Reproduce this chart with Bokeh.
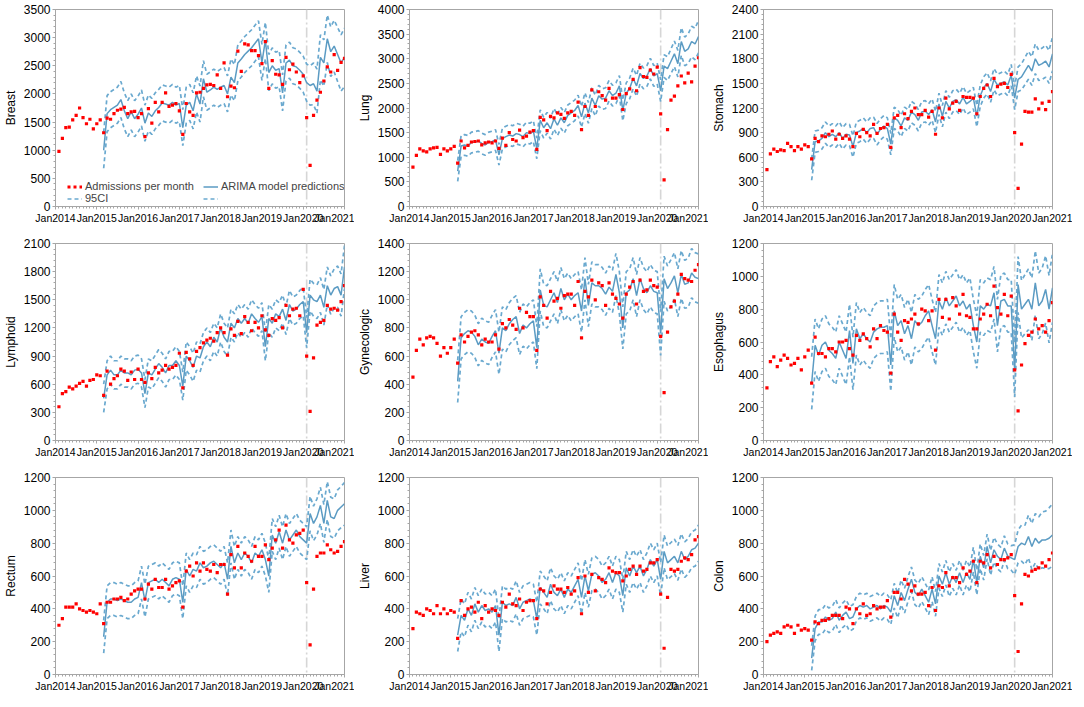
from bokeh.plotting import figure
from bokeh.layouts import gridplot
from bokeh.models import FixedTicker, Span, Legend, LegendItem, Range1d
from bokeh.embed import file_html
from bokeh.resources import INLINE

# x positions: months since Jan 2014 (1 = Feb 2014 ... 84 = Jan 2021)
month_obs = list(range(1, 85))
month_pred = list(range(14, 85))
year_ticks = [0, 12, 24, 36, 48, 60, 72, 84]
year_labels = ["Jan2014", "Jan2015", "Jan2016", "Jan2017", "Jan2018", "Jan2019", "Jan2020", "Jan2021"]
covid_month = 73

names = ["Breast", "Lung", "Stomach", "Lymphoid", "Gynecologic", "Esophagus", "Rectum", "Liver", "Colon"]
y_max = [3500, 4000, 2400, 2100, 1400, 1200, 1200, 1200, 1200]
y_step = [500, 500, 300, 300, 200, 200, 200, 200, 200]

# ---------------- Breast
breast_obs = [980, 1210, 1400, 1410, 1540, 1620, 1750, 1580, 1470, 1550, 1380, 1470,
              1540, 1310, 1570, 1550, 1650, 1710, 1730, 1760, 1650, 1680, 1690, 1580,
              1650, 1240, 1740, 1480, 1850, 1680, 1850, 2020, 1780, 1800, 1830, 1700,
              1280, 1830, 1680, 1620, 2020, 2030, 2100, 2160, 2170, 2150, 2340, 2100,
              2550, 1950, 2140, 2110, 2760, 2400, 2890, 2870, 2770, 2770, 2680, 2540,
              2930, 2100, 2590, 2350, 2340, 2170, 2650, 2430, 2530, 2390, 2200, 2320,
              1580, 730, 1620, 1890, 2030, 2230, 2480, 2390, 2700, 2420, 2560, 2630]
breast_pred = [1000, 1650, 1720, 1760, 1800, 1900, 1700, 1560, 1680, 1560, 1640,
               1750, 1480, 1660, 1600, 1700, 1760, 1840, 1820, 1800, 1850, 1800, 1830,
               1400, 1800, 1850, 1700, 2000, 1820, 2270, 2030, 2070, 2120, 2080, 2120,
               2150, 2000, 2300, 2200, 2550, 2620, 2700, 2760, 2820, 2900, 2980, 2560,
               2950, 2380, 2500, 2420, 2450, 2020, 2550, 2600, 2500, 2480, 2420, 2350,
               2200, 2150, 2180, 2050, 2650, 2550, 2980, 2750, 2850, 2700, 2550, 2650]
breast_ci = [320, 320, 320, 320, 320, 320, 320, 320, 320, 320, 320,
             320, 320, 320, 320, 320, 320, 320, 320, 320, 320, 320, 320,
             320, 320, 320, 320, 320, 320, 320, 320, 320, 320, 320, 320,
             320, 320, 320, 320, 320, 320, 320, 320, 320, 320, 320, 320,
             320, 320, 320, 320, 320, 320, 320, 320, 320, 320, 320, 320,
             330, 350, 370, 390, 400, 410, 420, 440, 460, 480, 500, 520]

# ---------------- Lung
lung_obs = [800, 1040, 1170, 1130, 1110, 1170, 1190, 1200, 1060, 1170, 1130, 1170,
            1220, 880, 1330, 1190, 1240, 1310, 1320, 1330, 1250, 1290, 1310, 1290,
            1330, 1180, 1390, 1240, 1500, 1360, 1330, 1550, 1400, 1430, 1510, 1540,
            1160, 1810, 1760, 1540, 1830, 1800, 1900, 1870, 1790, 1900, 1930, 1850,
            2120, 1560, 2030, 1850, 2370, 2030, 2330, 2250, 2160, 2400, 2200, 2200,
            2270, 1970, 2290, 2390, 2580, 2350, 2820, 2640, 2620, 2770, 2690, 2830,
            1880, 540, 1560, 2160, 2240, 2450, 2650, 2510, 2710, 2530, 2850, 3020]
lung_pred = [720, 1230, 1250, 1230, 1300, 1310, 1330, 1280, 1250, 1300, 1320,
             1350, 1050, 1380, 1420, 1450, 1430, 1480, 1460, 1420, 1500, 1480, 1530,
             1180, 1750, 1600, 1700, 1580, 1780, 1650, 1800, 1700, 1850, 1900, 1950,
             2050, 1820, 2100, 1900, 2200, 2050, 2250, 2180, 2200, 2350, 2250, 2300,
             2450, 1950, 2300, 2400, 2600, 2450, 2700, 2600, 2650, 2800, 2650, 2700,
             2350, 2850, 2800, 2950, 3100, 2900, 3350, 3150, 3200, 3350, 3300, 3450]
lung_ci = [210, 210, 210, 210, 210, 210, 210, 210, 210, 210, 210,
           210, 210, 210, 210, 210, 210, 210, 210, 210, 210, 210, 210,
           210, 210, 210, 210, 210, 210, 210, 210, 210, 210, 210, 210,
           210, 210, 210, 210, 210, 210, 210, 210, 210, 210, 210, 210,
           210, 210, 210, 210, 210, 210, 210, 210, 210, 210, 210, 210,
           220, 230, 240, 250, 260, 270, 280, 290, 300, 310, 320, 330]

# ---------------- Stomach
stomach_obs = [450, 640, 700, 670, 690, 680, 770, 730, 680, 730, 700, 750,
               730, 580, 830, 790, 860, 850, 880, 920, 820, 880, 830, 860,
               820, 730, 890, 850, 940, 900, 860, 1000, 890, 950, 960, 1000,
               720, 1080, 1110, 960, 1130, 1070, 1160, 1200, 1120, 1120, 1170, 1090,
               1160, 880, 1200, 1080, 1320, 1190, 1260, 1280, 1170, 1340, 1330, 1330,
               1320, 1130, 1340, 1440, 1480, 1340, 1560, 1460, 1490, 1500, 1450, 1610,
               900, 220, 760, 1160, 1150, 1150, 1310, 1190, 1260, 1180, 1280, 1400]
stomach_pred = [450, 790, 800, 830, 900, 850, 880, 850, 900, 830, 880,
                870, 730, 900, 920, 950, 900, 950, 960, 880, 940, 980, 950,
                760, 1080, 1050, 980, 1080, 1050, 1150, 1120, 1050, 1150, 1160, 1120,
                1180, 1030, 1250, 1100, 1280, 1200, 1280, 1300, 1250, 1330, 1250, 1280,
                1320, 1100, 1350, 1450, 1500, 1400, 1550, 1480, 1500, 1520, 1480, 1600,
                1320, 1550, 1580, 1650, 1720, 1650, 1800, 1720, 1740, 1770, 1700, 1860]
stomach_ci = [130, 130, 130, 130, 130, 130, 130, 130, 130, 130, 130,
              130, 130, 130, 130, 130, 130, 130, 130, 130, 130, 130, 130,
              130, 130, 130, 130, 130, 130, 130, 130, 130, 130, 130, 130,
              130, 130, 130, 130, 130, 130, 130, 130, 130, 130, 130, 130,
              130, 130, 130, 130, 130, 130, 130, 130, 130, 130, 130, 130,
              140, 150, 160, 165, 170, 175, 180, 185, 190, 195, 200, 205]

# ---------------- Lymphoid
lymphoid_obs = [360, 500, 520, 570, 550, 580, 610, 630, 580, 640, 650, 700,
                690, 480, 740, 600, 660, 690, 760, 740, 640, 730, 650, 760,
                650, 620, 720, 660, 780, 720, 750, 800, 760, 780, 800, 930,
                560, 940, 870, 800, 950, 990, 1040, 1070, 1090, 1060, 1150, 1200,
                1150, 910, 1190, 1120, 1270, 1140, 1320, 1260, 1170, 1260, 1200, 1330,
                1180, 1120, 1300, 1280, 1310, 1200, 1440, 1330, 1400, 1410, 1330, 1610,
                900, 310, 880, 1230, 1260, 1280, 1440, 1400, 1410, 1390, 1480, 1650]
lymphoid_pred = [450, 700, 750, 700, 700, 750, 720, 720, 700, 750, 760,
                 720, 500, 720, 700, 760, 820, 780, 720, 800, 800, 850, 800,
                 580, 900, 850, 780, 900, 880, 1000, 1050, 1000, 1100, 1050, 1200,
                 1100, 1050, 1250, 1200, 1300, 1250, 1300, 1250, 1350, 1300, 1260, 1320,
                 1000, 1300, 1250, 1350, 1320, 1400, 1280, 1450, 1380, 1400, 1450, 1480,
                 1150, 1550, 1500, 1480, 1550, 1420, 1650, 1550, 1620, 1640, 1550, 1850]
lymphoid_ci = [150, 150, 150, 150, 150, 150, 150, 150, 150, 150, 150,
               150, 150, 150, 150, 150, 150, 150, 150, 150, 150, 150, 150,
               150, 150, 150, 150, 150, 150, 150, 150, 150, 150, 150, 150,
               150, 150, 150, 150, 150, 150, 150, 150, 150, 150, 150, 150,
               150, 150, 150, 150, 150, 150, 150, 150, 150, 150, 150, 150,
               160, 170, 175, 180, 185, 190, 200, 205, 210, 220, 225, 230]

# ---------------- Gynecologic
gyn_obs = [450, 640, 720, 680, 730, 740, 730, 690, 600, 660, 620, 660,
           720, 550, 750, 700, 740, 770, 780, 750, 680, 720, 700, 700,
           750, 650, 830, 800, 860, 820, 790, 940, 800, 910, 880, 880,
           640, 1020, 960, 870, 1060, 990, 1010, 940, 1030, 1040, 1040, 960,
           1130, 730, 1060, 1020, 1140, 1000, 1120, 1100, 960, 1120, 1040, 1010,
           970, 870, 1040, 1090, 1130, 970, 1140, 1060, 1070, 1140, 1100, 1090,
           740, 340, 770, 950, 990, 1040, 1180, 1150, 1140, 1130, 1210, 1250]
gyn_pred = [420, 730, 760, 780, 770, 740, 680, 720, 700, 690, 740,
            780, 620, 800, 780, 830, 860, 880, 760, 820, 800, 830, 850,
            660, 1070, 960, 950, 1000, 1050, 980, 1080, 1000, 1040, 1000, 1030,
            1050, 920, 1150, 960, 1120, 1100, 1100, 1080, 1040, 1090, 1060, 1180,
            1050, 800, 1050, 1070, 1150, 1030, 1150, 1080, 1050, 1100, 1060, 1050,
            760, 1150, 1080, 1120, 1170, 1050, 1180, 1110, 1120, 1190, 1160, 1150]
gyn_ci = [150, 150, 150, 150, 150, 150, 150, 150, 150, 150, 150,
          150, 150, 150, 150, 150, 150, 150, 150, 150, 150, 150, 150,
          150, 150, 150, 150, 150, 150, 150, 150, 150, 150, 150, 150,
          150, 150, 150, 150, 150, 150, 150, 150, 150, 150, 150, 150,
          150, 150, 150, 150, 150, 150, 150, 150, 150, 150, 150, 150,
          155, 160, 160, 165, 165, 170, 170, 170, 175, 175, 175, 175]

# ---------------- Esophagus
eso_obs = [320, 480, 510, 450, 490, 520, 500, 460, 470, 500, 430, 510,
           550, 350, 630, 530, 530, 510, 560, 560, 540, 600, 600, 610,
           560, 520, 640, 610, 650, 620, 570, 680, 620, 700, 670, 660,
           410, 770, 660, 610, 730, 720, 740, 770, 710, 800, 790, 730,
           790, 550, 860, 750, 860, 740, 870, 820, 770, 890, 760, 750,
           680, 680, 740, 770, 830, 760, 940, 810, 770, 890, 760, 880,
           430, 180, 460, 590, 640, 660, 740, 680, 700, 660, 730, 840]
eso_pred = [350, 580, 520, 580, 600, 550, 530, 500, 600, 550, 500,
            670, 470, 680, 620, 650, 620, 600, 660, 680, 690, 690, 700,
            460, 790, 700, 730, 650, 700, 620, 730, 700, 720, 760, 790,
            700, 620, 850, 800, 870, 820, 850, 880, 820, 850, 800, 830,
            700, 600, 820, 800, 830, 820, 900, 700, 850, 860, 820, 820,
            430, 950, 800, 830, 860, 800, 960, 820, 850, 920, 800, 930]
eso_ci = [160, 160, 160, 160, 160, 160, 160, 160, 160, 160, 160,
          160, 160, 160, 160, 160, 160, 160, 160, 160, 160, 160, 160,
          160, 160, 160, 160, 160, 160, 160, 160, 160, 160, 160, 160,
          160, 160, 160, 160, 160, 160, 160, 160, 160, 160, 160, 160,
          160, 160, 160, 160, 160, 160, 160, 160, 160, 160, 160, 160,
          165, 170, 175, 180, 185, 190, 195, 200, 200, 205, 205, 210]

# ---------------- Rectum
rectum_obs = [300, 340, 410, 410, 410, 430, 400, 390, 380, 390, 380, 370,
              430, 310, 440, 440, 460, 460, 470, 450, 460, 490, 510, 520,
              520, 460, 550, 520, 580, 530, 530, 580, 520, 540, 560, 570,
              410, 630, 660, 600, 680, 630, 680, 640, 630, 670, 620, 670,
              670, 490, 730, 650, 780, 650, 740, 720, 690, 780, 720, 720,
              790, 700, 770, 820, 880, 770, 910, 820, 800, 850, 860, 880,
              560, 180, 520, 720, 740, 740, 790, 760, 740, 750, 780, 810]
rectum_pred = [230, 440, 460, 460, 450, 460, 450, 440, 440, 460, 470,
               560, 450, 560, 570, 580, 560, 580, 560, 540, 580, 590, 580,
               440, 640, 600, 640, 630, 680, 650, 660, 680, 690, 670, 650,
               680, 580, 780, 680, 740, 700, 740, 720, 680, 740, 720, 760,
               700, 600, 850, 800, 870, 800, 880, 820, 850, 880, 840, 820,
               800, 980, 920, 960, 1030, 920, 1060, 960, 950, 1000, 1020, 1040]
rectum_ci = [100, 100, 100, 100, 100, 100, 100, 100, 100, 100, 100,
             100, 100, 100, 100, 100, 100, 100, 100, 100, 100, 100, 100,
             100, 100, 100, 100, 100, 100, 100, 100, 100, 100, 100, 100,
             100, 100, 100, 100, 100, 100, 100, 100, 100, 100, 100, 100,
             100, 100, 100, 100, 100, 100, 100, 100, 100, 100, 100, 100,
             100, 105, 105, 110, 110, 115, 115, 120, 120, 125, 125, 130]

# ---------------- Liver
liver_obs = [280, 380, 370, 360, 400, 390, 370, 420, 370, 400, 370, 390,
             380, 220, 450, 360, 400, 410, 380, 440, 340, 420, 380, 400,
             390, 360, 440, 410, 490, 430, 420, 460, 390, 440, 450, 450,
             340, 520, 510, 430, 500, 540, 520, 520, 500, 530, 490, 510,
             590, 370, 600, 500, 610, 510, 590, 580, 560, 650, 630, 620,
             620, 570, 600, 640, 660, 610, 660, 630, 640, 680, 680, 700,
             490, 160, 470, 640, 630, 640, 690, 710, 700, 730, 820, 840]
liver_pred = [240, 360, 330, 400, 360, 430, 380, 420, 390, 400, 380,
              420, 240, 440, 420, 430, 420, 470, 400, 440, 450, 460, 450,
              340, 530, 500, 470, 550, 500, 480, 520, 470, 520, 500, 540,
              580, 470, 600, 510, 610, 620, 600, 560, 580, 620, 560, 620,
              600, 480, 650, 600, 660, 620, 660, 600, 640, 700, 660, 700,
              580, 750, 680, 700, 720, 680, 750, 700, 720, 760, 770, 800]
liver_ci = [100, 100, 100, 100, 100, 100, 100, 100, 100, 100, 100,
            100, 100, 100, 100, 100, 100, 100, 100, 100, 100, 100, 100,
            100, 100, 100, 100, 100, 100, 100, 100, 100, 100, 100, 100,
            100, 100, 100, 100, 100, 100, 100, 100, 100, 100, 100, 100,
            100, 100, 100, 100, 100, 100, 100, 100, 100, 100, 100, 100,
            100, 100, 102, 104, 105, 106, 107, 108, 108, 109, 110, 110]

# ---------------- Colon
colon_obs = [200, 240, 250, 260, 250, 290, 300, 290, 250, 300, 270, 280,
             270, 210, 320, 310, 330, 330, 340, 360, 360, 360, 340, 410,
             400, 310, 400, 370, 430, 360, 370, 420, 400, 410, 410, 450,
             350, 500, 500, 460, 580, 550, 510, 540, 490, 490, 500, 420,
             530, 390, 540, 530, 620, 540, 590, 590, 560, 650, 610, 630,
             690, 560, 690, 680, 730, 650, 720, 670, 700, 700, 710, 730,
             480, 140, 430, 610, 600, 630, 640, 650, 680, 660, 700, 740]
colon_pred = [100, 280, 320, 320, 350, 330, 340, 380, 330, 360, 380,
              340, 350, 400, 420, 410, 420, 400, 410, 420, 400, 420, 410,
              380, 480, 420, 500, 450, 520, 580, 500, 480, 520, 480, 440,
              520, 430, 600, 550, 620, 550, 600, 560, 620, 560, 620, 580,
              700, 560, 720, 650, 780, 680, 760, 720, 700, 770, 720, 710,
              700, 780, 800, 790, 840, 780, 830, 800, 820, 820, 830, 850]
colon_ci = [75, 75, 75, 75, 75, 75, 75, 75, 75, 75, 75,
            75, 75, 75, 75, 75, 75, 75, 75, 75, 75, 75, 75,
            75, 75, 75, 75, 75, 75, 75, 75, 75, 75, 75, 75,
            75, 75, 75, 75, 75, 75, 75, 75, 75, 75, 75, 75,
            75, 75, 75, 75, 75, 75, 75, 75, 75, 75, 75, 75,
            90, 100, 110, 120, 130, 140, 150, 160, 170, 175, 185, 190]

obs_all = [breast_obs, lung_obs, stomach_obs, lymphoid_obs, gyn_obs, eso_obs, rectum_obs, liver_obs, colon_obs]
pred_all = [breast_pred, lung_pred, stomach_pred, lymphoid_pred, gyn_pred, eso_pred, rectum_pred, liver_pred, colon_pred]
ci_all = [breast_ci, lung_ci, stomach_ci, lymphoid_ci, gyn_ci, eso_ci, rectum_ci, liver_ci, colon_ci]

for nm, o, pr, c in zip(names, obs_all, pred_all, ci_all):
    assert len(o) == 84, (nm, "obs", len(o))
    assert len(pr) == 71, (nm, "pred", len(pr))
    assert len(c) == 71, (nm, "ci", len(c))

FONT = "Liberation Sans"
RED = "#ff0000"
PRED_C = "#5b9bc3"
CI_C = "#6aa9cf"
AX_C = "#a6a6a6"
FW, FH = 295, 197

figs = []
for i, nm in enumerate(names):
    row, col = divmod(i, 3)
    bl = 49
    br = 20 if col == 2 else 10
    bt = 9
    bb = 21 if row == 2 else 28
    p = figure(width=FW + bl + br, height=FH + bt + bb,
               min_border_left=bl, min_border_right=br,
               min_border_top=bt, min_border_bottom=bb,
               x_range=Range1d(0, 84), y_range=Range1d(0, y_max[i]),
               toolbar_location=None, output_backend="svg")
    p.xgrid.visible = False
    p.ygrid.visible = False
    p.outline_line_color = AX_C
    p.outline_line_width = 1
    p.background_fill_color = "white"
    p.border_fill_color = "white"

    p.xaxis.ticker = FixedTicker(ticks=year_ticks, minor_ticks=list(range(0, 85)))
    p.xaxis.major_label_overrides = {t: l for t, l in zip(year_ticks, year_labels)}
    yt = list(range(0, y_max[i] + 1, y_step[i]))
    p.yaxis.ticker = FixedTicker(ticks=yt, minor_ticks=list(range(0, y_max[i] + 1, y_step[i] // 5)))
    for ax in (p.xaxis, p.yaxis):
        ax.axis_line_color = AX_C
        ax.major_tick_line_color = AX_C
        ax.minor_tick_line_color = AX_C
        ax.major_tick_out = 3
        ax.major_tick_in = 0
        ax.minor_tick_out = 2
        ax.minor_tick_in = 0
        ax.major_label_text_font = FONT
        ax.major_label_text_color = "black"
        ax.major_label_standoff = 2
    p.xaxis.major_label_text_font_size = "10.5px"
    p.yaxis.major_label_text_font_size = "12px"
    p.yaxis.axis_label = nm
    p.yaxis.axis_label_text_font = FONT
    p.yaxis.axis_label_text_font_size = "12px"
    p.yaxis.axis_label_text_font_style = "normal"
    p.yaxis.axis_label_text_color = "black"
    p.yaxis.axis_label_standoff = 3

    pr = pred_all[i]
    hw = ci_all[i]
    hi = [a + b for a, b in zip(pr, hw)]
    lo = [a - b for a, b in zip(pr, hw)]

    p.add_layout(Span(location=covid_month, dimension="height", line_color="#d6d6d6",
                      line_width=1.6, line_dash="10 3 2 3", level="underlay"))
    r_hi = p.line(month_pred, hi, line_color=CI_C, line_width=1.7, line_dash="4 3")
    r_lo = p.line(month_pred, lo, line_color=CI_C, line_width=1.7, line_dash="4 3")
    r_pred = p.line(month_pred, pr, line_color=PRED_C, line_width=1.5)
    p.scatter(month_obs, obs_all[i], marker="square", size=3.2, color=RED, line_color=None)

    if i == 0:
        r_dot = p.line([-10, -9], [-100, -100], line_color=RED, line_width=3, line_dash="3 3")
        leg = Legend(items=[LegendItem(label="Admissions per month", renderers=[r_dot]),
                            LegendItem(label="ARIMA model predictions", renderers=[r_pred]),
                            LegendItem(label="95CI", renderers=[r_hi]),
                            LegendItem(label=" ", renderers=[r_lo])],
                     orientation="horizontal", ncols=2, location=(12, 2),
                     background_fill_alpha=0, border_line_color=None,
                     label_text_font=FONT, label_text_font_size="11px",
                     glyph_width=15, glyph_height=9, label_height=9, label_width=118,
                     spacing=0, padding=0, margin=0, label_standoff=3)
        p.add_layout(leg)
    figs.append(p)

grid = gridplot(figs, ncols=3, toolbar_location=None)
open("out.html", "w").write(file_html(grid, INLINE))
